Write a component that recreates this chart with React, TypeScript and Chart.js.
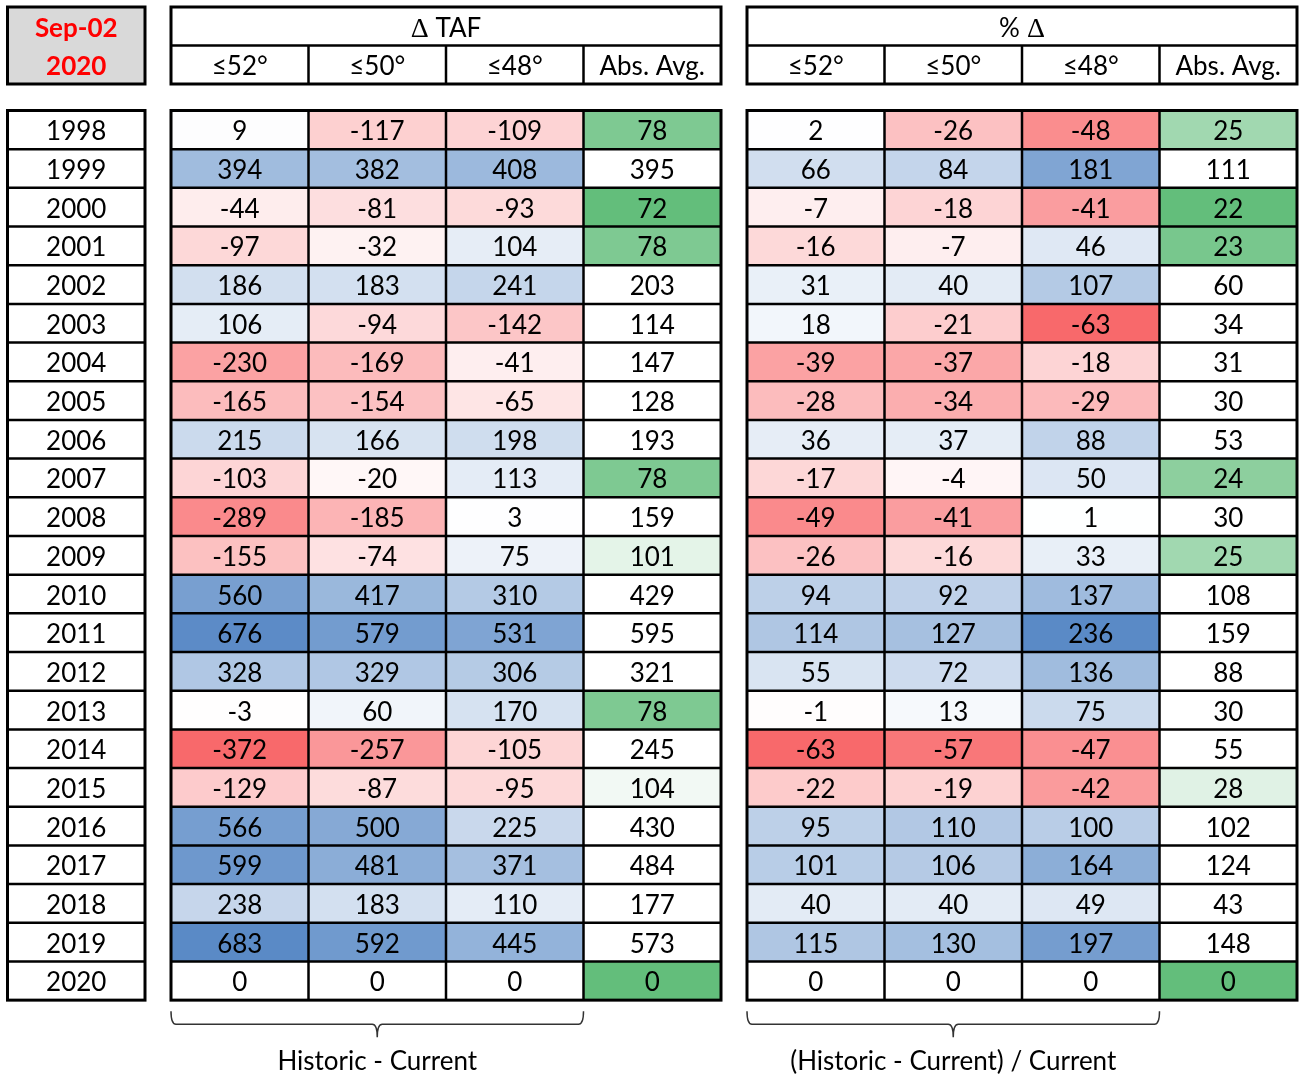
import React, { useEffect, useRef } from 'react';
import { Chart, registerables } from 'chart.js';

Chart.register(...registerables);

// rows
const years = ['1998', '1999', '2000', '2001', '2002', '2003', '2004', '2005', '2006', '2007', '2008', '2009',
  '2010', '2011', '2012', '2013', '2014', '2015', '2016', '2017', '2018', '2019', '2020'];

const subHeaders = ['≤52°', '≤50°', '≤48°', 'Abs. Avg.'];

// Δ TAF (historic - current)
const tafLe52 = [9, 394, -44, -97, 186, 106, -230, -165, 215, -103, -289, -155, 560, 676, 328, -3, -372, -129, 566, 599, 238, 683, 0];
const tafLe50 = [-117, 382, -81, -32, 183, -94, -169, -154, 166, -20, -185, -74, 417, 579, 329, 60, -257, -87, 500, 481, 183, 592, 0];
const tafLe48 = [-109, 408, -93, 104, 241, -142, -41, -65, 198, 113, 3, 75, 310, 531, 306, 170, -105, -95, 225, 371, 110, 445, 0];
const tafAbsAvg = [78, 395, 72, 78, 203, 114, 147, 128, 193, 78, 159, 101, 429, 595, 321, 78, 245, 104, 430, 484, 177, 573, 0];

// % Δ ((historic - current) / current)
const pctLe52 = [2, 66, -7, -16, 31, 18, -39, -28, 36, -17, -49, -26, 94, 114, 55, -1, -63, -22, 95, 101, 40, 115, 0];
const pctLe50 = [-26, 84, -18, -7, 40, -21, -37, -34, 37, -4, -41, -16, 92, 127, 72, 13, -57, -19, 110, 106, 40, 130, 0];
const pctLe48 = [-48, 181, -41, 46, 107, -63, -18, -29, 88, 50, 1, 33, 137, 236, 136, 75, -47, -42, 100, 164, 49, 197, 0];
const pctAbsAvg = [25, 111, 22, 23, 60, 34, 31, 30, 53, 24, 30, 25, 108, 159, 88, 30, 55, 28, 102, 124, 43, 148, 0];

// green scale limits for the Abs. Avg. columns (full green at lo, white at hi)
const tafGreenRange = [72, 107];
const pctGreenRange = [22, 29.5];

const blocks = [
  { title: ['Δ', ' TAF'], cols: [tafLe52, tafLe50, tafLe48], abs: tafAbsAvg, green: tafGreenRange, note: 'Historic - Current' },
  { title: ['%', ' Δ'], cols: [pctLe52, pctLe50, pctLe48], abs: pctAbsAvg, green: pctGreenRange, note: '(Historic - Current) / Current' },
];

// layout (page units)
const W = 1299;
const H = 1076;
const X0 = 7.5;
const COL_W = 137.5;
const GAP = 26;
const HEAD_Y0 = 7;
const HEAD_H = 38.5;
const BODY_Y0 = 110.5;
const ROW_H = 38.68;

const RED = [248, 105, 107];
const WHITE = [255, 255, 255];
const BLUE = [90, 138, 198];
const GREEN = [99, 190, 123];

const FONT = '26px Lato, "Noto Sans", sans-serif';
const BOLD = 'bold 26px Lato, "Noto Sans", sans-serif';
const SERIF = '28px "Liberation Serif", "DejaVu Serif", serif';

const mix = (a: number[], b: number[], t: number) => {
  const k = Math.max(0, Math.min(1, t));
  return `rgb(${a.map((v, i) => Math.round(v + (b[i] - v) * k)).join(',')})`;
};

const divergingColor = (v: number, min: number, max: number) =>
  v >= 0 ? mix(WHITE, BLUE, max ? v / max : 0) : mix(WHITE, RED, min ? v / min : 0);

const greenColor = (v: number, range: number[]) =>
  mix(GREEN, WHITE, (v - range[0]) / (range[1] - range[0]));

const blockLeft = (b: number) => X0 + COL_W + GAP + b * (4 * COL_W + GAP);

const tablePlugin = {
  id: 'heatTable',
  afterDraw(chart: Chart) {
    const ctx = chart.ctx;
    const sx = chart.scales.x;
    const sy = chart.scales.y;
    const px = (v: number) => sx.getPixelForValue(v);
    const py = (v: number) => sy.getPixelForValue(v);
    const rowTop = (i: number) => BODY_Y0 + i * ROW_H;
    const bodyBottom = rowTop(years.length);
    const BASE = 10.5;

    const fill = (x0: number, y0: number, x1: number, y1: number, c: string) => {
      ctx.fillStyle = c;
      ctx.fillRect(px(x0), py(y0), px(x1) - px(x0), py(y1) - py(y0));
    };
    const line = (x0: number, y0: number, x1: number, y1: number, w: number) => {
      ctx.beginPath();
      ctx.lineWidth = w;
      ctx.strokeStyle = '#000';
      ctx.moveTo(px(x0), py(y0));
      ctx.lineTo(px(x1), py(y1));
      ctx.stroke();
    };
    const box = (x0: number, y0: number, x1: number, y1: number) => {
      ctx.lineWidth = 3;
      ctx.strokeStyle = '#000';
      ctx.strokeRect(px(x0), py(y0), px(x1) - px(x0), py(y1) - py(y0));
    };
    const text = (s: string, cx: number, cy: number, font = FONT, color = '#000') => {
      ctx.font = font;
      ctx.fillStyle = color;
      ctx.textAlign = 'center';
      ctx.textBaseline = 'alphabetic';
      ctx.fillText(s, px(cx), py(cy) + BASE);
    };

    ctx.save();

    // corner header
    fill(X0, HEAD_Y0, X0 + COL_W, HEAD_Y0 + 2 * HEAD_H, '#d9d9d9');
    box(X0, HEAD_Y0, X0 + COL_W, HEAD_Y0 + 2 * HEAD_H);
    text('Sep-02', X0 + COL_W / 2, HEAD_Y0 + HEAD_H / 2, BOLD, '#ff0000');
    text('2020', X0 + COL_W / 2, HEAD_Y0 + 1.5 * HEAD_H, BOLD, '#ff0000');

    // year column
    for (let i = 1; i < years.length; i++) line(X0, rowTop(i), X0 + COL_W, rowTop(i), 2.5);
    box(X0, BODY_Y0, X0 + COL_W, bodyBottom);
    years.forEach((yr, i) => text(yr, X0 + COL_W / 2, rowTop(i) + ROW_H / 2));

    blocks.forEach((blk, b) => {
      const left = blockLeft(b);
      const right = left + 4 * COL_W;
      const all = blk.cols.flat();
      const min = Math.min(...all);
      const max = Math.max(...all);

      // headers
      for (let c = 1; c < 4; c++) line(left + c * COL_W, HEAD_Y0 + HEAD_H, left + c * COL_W, HEAD_Y0 + 2 * HEAD_H, 2.5);
      line(left, HEAD_Y0 + HEAD_H, right, HEAD_Y0 + HEAD_H, 2.5);
      box(left, HEAD_Y0, right, HEAD_Y0 + 2 * HEAD_H);
      let total = 0;
      blk.title.forEach((part) => {
        ctx.font = part.includes('Δ') ? SERIF : FONT;
        total += ctx.measureText(part).width;
      });
      let tx = px(left + 2 * COL_W) - total / 2;
      const ty = py(HEAD_Y0 + HEAD_H / 2) + BASE;
      ctx.textAlign = 'left';
      ctx.textBaseline = 'alphabetic';
      ctx.fillStyle = '#000';
      blk.title.forEach((part) => {
        ctx.font = part.includes('Δ') ? SERIF : FONT;
        ctx.fillText(part, tx, ty);
        tx += ctx.measureText(part).width;
      });
      subHeaders.forEach((s, c) => text(s, left + (c + 0.5) * COL_W, HEAD_Y0 + 1.5 * HEAD_H));

      // cells
      years.forEach((_, i) => {
        blk.cols.forEach((col, c) => {
          fill(left + c * COL_W, rowTop(i), left + (c + 1) * COL_W, rowTop(i + 1), divergingColor(col[i], min, max));
        });
        fill(left + 3 * COL_W, rowTop(i), right, rowTop(i + 1), greenColor(blk.abs[i], blk.green));
      });
      for (let i = 1; i < years.length; i++) line(left, rowTop(i), right, rowTop(i), 2.5);
      for (let c = 1; c < 4; c++) line(left + c * COL_W, BODY_Y0, left + c * COL_W, bodyBottom, 2.5);
      box(left, BODY_Y0, right, bodyBottom);
      years.forEach((_, i) => {
        const cy = rowTop(i) + ROW_H / 2;
        blk.cols.forEach((col, c) => text(String(col[i]), left + (c + 0.5) * COL_W, cy));
        text(String(blk.abs[i]), left + 3.5 * COL_W, cy);
      });

      // brace under the three delta columns
      const bx0 = px(left);
      const bx1 = px(left + 3 * COL_W);
      const bcx = (bx0 + bx1) / 2;
      const yTop = py(bodyBottom + 11);
      const yMid = py(bodyBottom + 24);
      const yTip = py(bodyBottom + 37);
      const r = 5;
      ctx.beginPath();
      ctx.lineWidth = 1.5;
      ctx.strokeStyle = '#333';
      ctx.moveTo(bx0, yTop);
      ctx.quadraticCurveTo(bx0, yMid, bx0 + r, yMid);
      ctx.lineTo(bcx - r, yMid);
      ctx.quadraticCurveTo(bcx, yMid, bcx, yTip);
      ctx.moveTo(bx1, yTop);
      ctx.quadraticCurveTo(bx1, yMid, bx1 - r, yMid);
      ctx.lineTo(bcx + r, yMid);
      ctx.quadraticCurveTo(bcx, yMid, bcx, yTip);
      ctx.stroke();
      text(blk.note, left + 1.5 * COL_W, bodyBottom + 59);
    });

    ctx.restore();
  },
};

export default function App() {
  const canvasRef = useRef<HTMLCanvasElement | null>(null);

  useEffect(() => {
    if (!canvasRef.current) return;
    const chart = new Chart(canvasRef.current, {
      type: 'scatter',
      data: { datasets: [] },
      options: {
        animation: false,
        responsive: true,
        maintainAspectRatio: false,
        layout: { padding: 0 },
        scales: {
          x: { type: 'linear', min: 0, max: W, display: false },
          y: { type: 'linear', min: 0, max: H, reverse: true, display: false },
        },
        plugins: { legend: { display: false }, tooltip: { enabled: false } },
      },
      plugins: [tablePlugin],
    });
    return () => chart.destroy();
  }, []);

  return (
    <div style={{ position: 'fixed', left: 0, top: 0, width: W, height: H, background: '#fff' }}>
      <canvas ref={canvasRef} />
    </div>
  );
}
